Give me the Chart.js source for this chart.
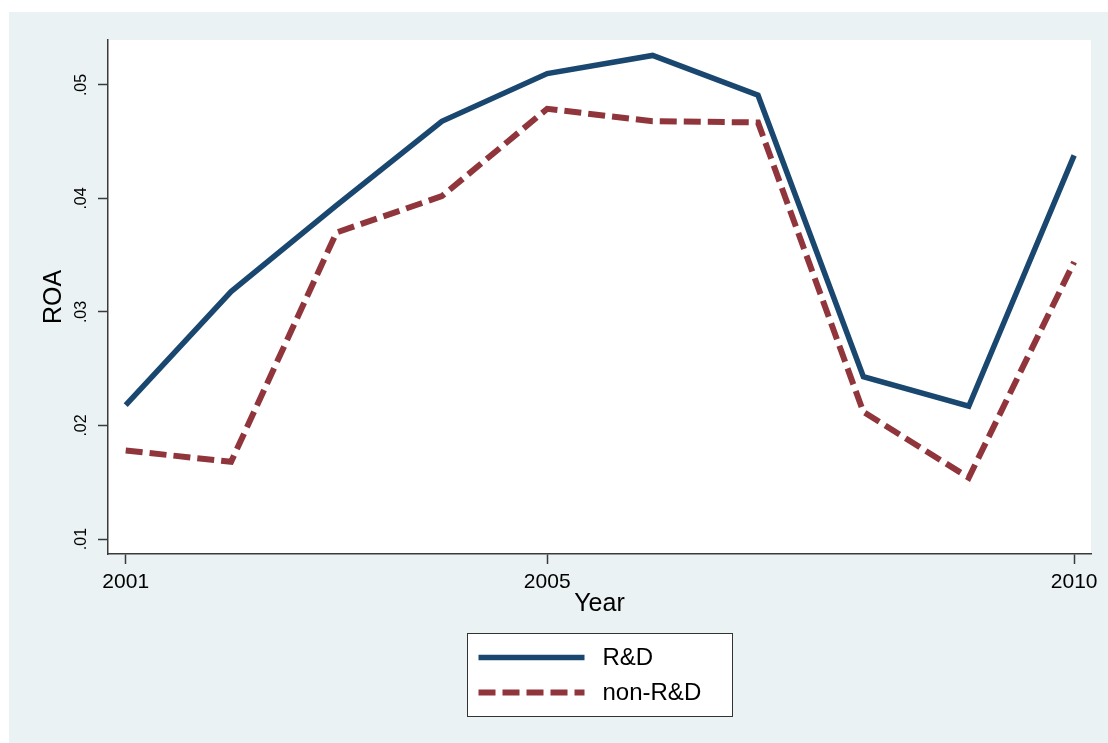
<!DOCTYPE html>
<html>
<head>
<meta charset="utf-8">
<title>ROA by year: R&amp;D vs non-R&amp;D firms</title>
<script src="https://cdn.jsdelivr.net/npm/chart.js@4.4.1/dist/chart.umd.min.js"></script>
<style>
  html, body { margin: 0; padding: 0; background: #ffffff; }
  canvas { display: block; }
</style>
</head>
<body>
<canvas id="roaChart" width="1108" height="743"></canvas>
<script>
// Mean return on assets per year for the two firm groups
const years = [2001, 2002, 2003, 2004, 2005, 2006, 2007, 2008, 2009, 2010];
const rdROA = [0.0218, 0.0318, 0.0394, 0.0468, 0.0510, 0.0526, 0.0491, 0.0243, 0.0217, 0.0438];
const nonRdROA = [0.0178, 0.0168, 0.0370, 0.0402, 0.0479, 0.0468, 0.0467, 0.0212, 0.0154, 0.0344];

// Axis ticks
const yearTicks = [2001, 2005, 2010];
const roaTicks = [0.01, 0.02, 0.03, 0.04, 0.05];

const seriesNames = ['R&D', 'non-R&D'];

const FONT = '"Liberation Sans", Arial, Helvetica, sans-serif';
const AXIS_COLOR = '#3a3a3a';
const NAVY = '#1a476f';
const MAROON = '#90353b';

const toPoints = (vals) => years.map((yr, i) => ({ x: yr, y: vals[i] }));

// Graph region, white plot region
const backgroundPlugin = {
  id: 'regions',
  beforeDraw(chart) {
    const { ctx, chartArea: a, width, height } = chart;
    ctx.save();
    ctx.fillStyle = '#ffffff';
    ctx.fillRect(0, 0, width, height);
    ctx.fillStyle = '#eaf2f3';
    ctx.fillRect(9, 12, width - 9, height - 12);
    ctx.fillStyle = '#ffffff';
    ctx.fillRect(a.left, a.top, a.right - a.left, a.bottom - a.top);
    ctx.restore();
  }
};

// Boxed legend below the axis title, one series per row
const boxedLegend = {
  id: 'boxedLegend',
  afterDraw(chart) {
    const { ctx, chartArea: a } = chart;
    const cx = (a.left + a.right) / 2;
    const boxW = 265, boxH = 83;
    const left = Math.round(cx - boxW / 2) + 0.5;
    const top = a.bottom + 79.5;
    ctx.save();
    ctx.fillStyle = '#ffffff';
    ctx.fillRect(left, top, boxW, boxH);
    ctx.strokeStyle = '#333333';
    ctx.lineWidth = 1;
    ctx.strokeRect(left, top, boxW, boxH);
    const rows = [top + 24, top + 59];
    chart.data.datasets.forEach((ds, i) => {
      const y = rows[i];
      ctx.beginPath();
      ctx.strokeStyle = ds.borderColor;
      ctx.lineWidth = ds.borderWidth;
      ctx.lineCap = 'butt';
      ctx.setLineDash(ds.borderDash || []);
      ctx.moveTo(left + 11, y);
      ctx.lineTo(left + 117, y);
      ctx.stroke();
      ctx.setLineDash([]);
      ctx.fillStyle = '#000000';
      ctx.font = '24px ' + FONT;
      ctx.textBaseline = 'middle';
      ctx.textAlign = 'left';
      ctx.fillText(ds.label, left + 135, y + 1);
    });
    ctx.restore();
  }
};

new Chart(document.getElementById('roaChart'), {
  type: 'line',
  data: {
    datasets: [
      {
        label: seriesNames[0],
        data: toPoints(rdROA),
        borderColor: NAVY,
        backgroundColor: NAVY,
        borderWidth: 5.5,
        pointRadius: 0,
        tension: 0,
        fill: false
      },
      {
        label: seriesNames[1],
        data: toPoints(nonRdROA),
        borderColor: MAROON,
        backgroundColor: MAROON,
        borderWidth: 6,
        borderDash: [17, 7],
        pointRadius: 0,
        tension: 0,
        fill: false
      }
    ]
  },
  options: {
    responsive: false,
    animation: false,
    devicePixelRatio: 1,
    layout: { padding: { left: 0, top: 40, right: 17, bottom: 119 } },
    plugins: {
      legend: { display: false },
      tooltip: { enabled: false }
    },
    scales: {
      x: {
        type: 'linear',
        min: 2000.832,
        max: 2010.16,
        afterBuildTicks(scale) { scale.ticks = yearTicks.map(v => ({ value: v })); },
        afterFit(scale) { scale.height = 70; },
        grid: {
          drawOnChartArea: false,
          drawTicks: true,
          tickLength: 10,
          tickWidth: 1.5,
          tickColor: AXIS_COLOR
        },
        border: { display: true, color: AXIS_COLOR, width: 1.5 },
        ticks: {
          color: '#000000',
          font: { family: FONT, size: 21 },
          padding: 6,
          maxRotation: 0,
          callback: (v) => String(v)
        },
        title: {
          display: true,
          text: 'Year',
          color: '#000000',
          font: { family: FONT, size: 25 },
          padding: { top: 0, bottom: 5 }
        }
      },
      y: {
        type: 'linear',
        min: 0.00868,
        max: 0.05396,
        afterBuildTicks(scale) { scale.ticks = roaTicks.map(v => ({ value: v })); },
        afterFit(scale) { scale.width = 108; },
        grid: {
          drawOnChartArea: false,
          drawTicks: true,
          tickLength: 10,
          tickWidth: 1.5,
          tickColor: AXIS_COLOR
        },
        border: { display: true, color: AXIS_COLOR, width: 1.5 },
        ticks: {
          color: '#000000',
          font: { family: FONT, size: 16 },
          minRotation: 90,
          maxRotation: 90,
          crossAlign: 'center',
          padding: 5,
          callback: (v) => v.toFixed(2).replace(/^0/, '')
        },
        title: {
          display: true,
          text: 'ROA',
          color: '#000000',
          font: { family: FONT, size: 25 },
          padding: { top: 39, bottom: 0 }
        }
      }
    }
  },
  plugins: [backgroundPlugin, boxedLegend]
});
</script>
</body>
</html>
